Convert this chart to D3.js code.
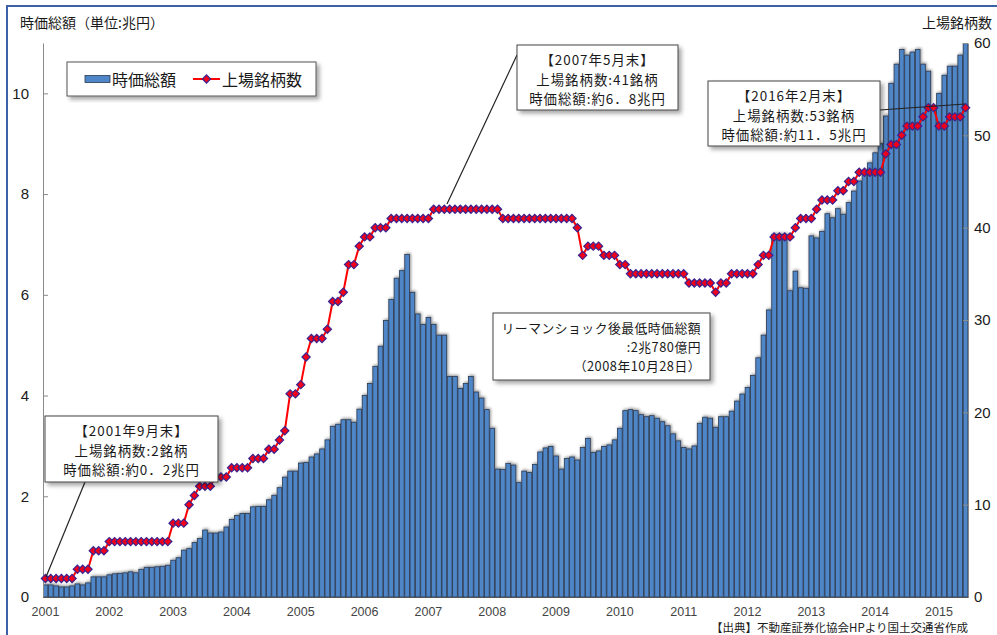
<!DOCTYPE html>
<html>
<head>
<meta charset="utf-8">
<script src="https://cdn.jsdelivr.net/npm/d3@7"></script>
<style>
  body { margin: 0; background: #fff; }
  svg text { font-family: "Noto Sans CJK JP", sans-serif; fill: #1a1a1a; }
  svg text.num { font-family: "Liberation Sans", Arial, sans-serif; }
</style>
</head>
<body>
<script>

// month-end data, Sep 2001 .. Feb 2016
var months = d3.timeMonth.range(new Date(2001, 8, 1), new Date(2016, 2, 1));

var yearLabels = ["2001", "2002", "2003", "2004", "2005", "2006", "2007", "2008",
                  "2009", "2010", "2011", "2012", "2013", "2014", "2015"];

// 時価総額 (兆円)
var marketCap = [
  0.24, 0.24, 0.22, 0.2, 0.2, 0.22, 0.26, 0.24, 0.28, 0.4, 0.4, 0.4,
  0.44, 0.46, 0.47, 0.48, 0.5, 0.48, 0.55, 0.59, 0.59, 0.6, 0.61, 0.63,
  0.73, 0.78, 0.93, 0.96, 1.08, 1.16, 1.33, 1.27, 1.27, 1.29, 1.39, 1.54,
  1.62, 1.66, 1.66, 1.79, 1.8, 1.8, 1.93, 2.02, 2.17, 2.38, 2.5, 2.5,
  2.66, 2.67, 2.78, 2.84, 2.94, 3.12, 3.39, 3.43, 3.52, 3.52, 3.47, 3.73,
  4.0, 4.24, 4.58, 4.98, 5.49, 5.91, 6.33, 6.48, 6.8, 6.05, 5.62, 5.41,
  5.55, 5.41, 5.2, 5.2, 4.38, 4.38, 4.14, 4.24, 4.38, 4.07, 3.95, 3.72,
  3.35, 2.54, 2.53, 2.65, 2.62, 2.27, 2.5, 2.47, 2.63, 2.88, 2.96, 2.99,
  2.8, 2.54, 2.75, 2.78, 2.72, 2.97, 3.15, 2.87, 2.9, 2.99, 3.02, 3.12,
  3.35, 3.7, 3.72, 3.7, 3.62, 3.58, 3.6, 3.55, 3.48, 3.4, 3.24, 3.1,
  2.97, 2.94, 3.0, 3.45, 3.57, 3.55, 3.37, 3.58, 3.58, 3.69, 3.89, 4.03,
  4.16, 4.4, 4.75, 5.2, 5.7, 7.2, 7.2, 7.2, 6.08, 6.47, 6.14, 6.13,
  7.17, 7.13, 7.26, 7.61, 7.53, 7.71, 7.6, 7.83, 8.06, 8.26, 8.47, 8.62,
  8.82, 9.0, 9.55, 10.2, 10.58, 10.87, 10.76, 10.82, 10.87, 10.58, 10.44, 9.71,
  10.0, 10.36, 10.54, 10.54, 10.76, 11.5
];

// 上場銘柄数
var listedCount = [
  2, 2, 2, 2, 2, 2, 3, 3, 3, 5, 5, 5,
  6, 6, 6, 6, 6, 6, 6, 6, 6, 6, 6, 6,
  8, 8, 8, 10, 11, 12, 12, 12, 13, 13, 13, 14,
  14, 14, 14, 15, 15, 15, 16, 16, 17, 18, 22, 22,
  23, 26, 28, 28, 28, 29, 32, 32, 33, 36, 36, 38,
  39, 39, 40, 40, 40, 41, 41, 41, 41, 41, 41, 41,
  41, 42, 42, 42, 42, 42, 42, 42, 42, 42, 42, 42,
  42, 42, 41, 41, 41, 41, 41, 41, 41, 41, 41, 41,
  41, 41, 41, 41, 40, 37, 38, 38, 38, 37, 37, 37,
  36, 36, 35, 35, 35, 35, 35, 35, 35, 35, 35, 35,
  35, 34, 34, 34, 34, 34, 33, 34, 34, 35, 35, 35,
  35, 35, 36, 37, 37, 39, 39, 39, 39, 40, 41, 41,
  41, 42, 43, 43, 43, 44, 44, 45, 45, 46, 46, 46,
  46, 46, 48, 49, 49, 50, 51, 51, 51, 52, 53, 53,
  51, 51, 52, 52, 52, 53
];

var leftTicks = [0, 2, 4, 6, 8, 10];
var rightTicks = [0, 10, 20, 30, 40, 50, 60];

// plot area
var width = 997, height = 635;
var plot = {left: 43, right: 968, top: 43, bottom: 597};

var svg = d3.select("body").append("svg")
  .attr("width", width)
  .attr("height", height);

var defs = svg.append("defs");

// soft drop shadow used by boxes
var sh = defs.append("filter").attr("id", "shadow")
  .attr("x", "-20%").attr("y", "-20%").attr("width", "140%").attr("height", "140%");
sh.append("feDropShadow").attr("dx", 3).attr("dy", 3).attr("stdDeviation", 2)
  .attr("flood-color", "#000").attr("flood-opacity", 0.35);

// glow on the bars
var gl = defs.append("filter").attr("id", "barglow")
  .attr("x", "-5%").attr("y", "-5%").attr("width", "110%").attr("height", "110%");
gl.append("feDropShadow").attr("dx", 1).attr("dy", -1).attr("stdDeviation", 1.6)
  .attr("flood-color", "#000").attr("flood-opacity", 0.45);

defs.append("clipPath").attr("id", "plotclip")
  .append("rect")
  .attr("x", plot.left).attr("y", plot.top)
  .attr("width", plot.right - plot.left).attr("height", plot.bottom - plot.top);

// outer frame
svg.append("rect")
  .attr("x", 7).attr("y", 6)
  .attr("width", 1000).attr("height", 640)
  .attr("fill", "none")
  .attr("stroke", "#3b62a6")
  .attr("stroke-width", 2);

// scales
var x = d3.scaleBand()
  .domain(d3.range(months.length))
  .range([plot.left, plot.right])
  .paddingInner(0.12)
  .paddingOuter(0.02);

var yL = d3.scaleLinear().domain([0, 11]).range([plot.bottom, plot.top]);
var yR = d3.scaleLinear().domain([0, 60]).range([plot.bottom, plot.top]);

// bars
svg.append("g")
  .attr("clip-path", "url(#plotclip)")
  .append("g")
  .attr("filter", "url(#barglow)")
  .selectAll("rect")
  .data(marketCap).enter()
  .append("rect")
  .attr("x", function(d, i) { return x(i); })
  .attr("width", x.bandwidth())
  .attr("y", function(d) { return yL(d); })
  .attr("height", function(d) { return yL(0) - yL(d); })
  .attr("fill", "#4f86c8")
  .attr("stroke", "#2b3a52")
  .attr("stroke-width", 0.8);

// axes
var axL = svg.append("g")
  .attr("transform", "translate(" + plot.left + ",0)")
  .call(d3.axisLeft(yL).tickValues(leftTicks).tickSizeInner(-5).tickSizeOuter(0).tickPadding(14));
axL.selectAll("text").attr("class", "num").style("font-size", "15px");

var axR = svg.append("g")
  .attr("transform", "translate(" + plot.right + ",0)")
  .call(d3.axisRight(yR).tickValues(rightTicks).tickSizeInner(-5).tickSizeOuter(0).tickPadding(6));
axR.selectAll("text").attr("class", "num").style("font-size", "15px");

var axB = svg.append("g")
  .attr("transform", "translate(0," + plot.bottom + ")")
  .call(d3.axisBottom(x)
    .tickValues(d3.range(0, months.length, 12))
    .tickFormat(function(i) { return yearLabels[i / 12]; })
    .tickSize(0).tickPadding(10));
axB.selectAll("text").attr("class", "num").style("font-size", "12.5px").style("fill", "#444");

[axL, axR, axB].forEach(function(a) {
  a.select(".domain").attr("stroke", "#8a8a8a");
  a.selectAll(".tick line").attr("stroke", "#8a8a8a");
  a.attr("font-family", null).attr("font-size", null);
});
axB.select(".domain").attr("stroke", "#555");

// listed count line
var line = d3.line()
  .x(function(d, i) { return x(i) + x.bandwidth() / 2; })
  .y(function(d) { return yR(d); });

svg.append("path")
  .datum(listedCount)
  .attr("fill", "none")
  .attr("stroke", "#ff0000")
  .attr("stroke-width", 2)
  .attr("d", line);

var diamond = d3.symbol().type(d3.symbolSquare).size(34);

svg.append("g").selectAll("path")
  .data(listedCount).enter()
  .append("path")
  .attr("d", diamond)
  .attr("transform", function(d, i) {
    return "translate(" + (x(i) + x.bandwidth() / 2) + "," + yR(d) + ") rotate(45)";
  })
  .attr("fill", "#f0001a")
  .attr("stroke", "#3a2390")
  .attr("stroke-width", 1.2);

// axis titles
svg.append("text").attr("x", 20).attr("y", 28)
  .style("font-size", "14px").text("時価総額（単位:兆円）");
svg.append("text").attr("x", 922).attr("y", 28)
  .style("font-size", "14px").text("上場銘柄数");

// legend
var lg = svg.append("g");
lg.append("rect")
  .attr("x", 67).attr("y", 62).attr("width", 249).attr("height", 34)
  .attr("fill", "#fff").attr("stroke", "#555").attr("stroke-width", 1)
  .attr("filter", "url(#shadow)");
lg.append("rect")
  .attr("x", 85).attr("y", 75.5).attr("width", 25).attr("height", 7)
  .attr("fill", "#4f86c8").attr("stroke", "#2b3a52").attr("stroke-width", 0.8);
lg.append("text").attr("x", 112).attr("y", 86)
  .style("font-size", "16px").text("時価総額");
lg.append("line")
  .attr("x1", 193).attr("x2", 220).attr("y1", 79).attr("y2", 79)
  .attr("stroke", "#ff0000").attr("stroke-width", 2);
lg.append("path")
  .attr("d", diamond)
  .attr("transform", "translate(206.5,79) rotate(45)")
  .attr("fill", "#f0001a").attr("stroke", "#3a2390").attr("stroke-width", 1.2);
lg.append("text").attr("x", 222).attr("y", 86)
  .style("font-size", "16px").text("上場銘柄数");

// callout boxes: one text per line
function callout(bx, by, bw, bh, lines, firstBase, lineGap, anchor, tx, fs, ls, leader) {
  var g = svg.append("g");
  if (leader) {
    g.append("line")
      .attr("x1", leader[0]).attr("y1", leader[1])
      .attr("x2", leader[2]).attr("y2", leader[3])
      .attr("stroke", "#222").attr("stroke-width", 1.2);
  }
  g.append("rect")
    .attr("x", bx).attr("y", by).attr("width", bw).attr("height", bh)
    .attr("fill", "#fff").attr("stroke", "#444").attr("stroke-width", 1)
    .attr("filter", "url(#shadow)");
  lines.forEach(function(s, k) {
    g.append("text")
      .attr("x", tx).attr("y", firstBase + k * lineGap)
      .attr("text-anchor", anchor)
      .style("font-size", fs + "px")
      .style("letter-spacing", ls + "px")
      .text(s);
  });
}

callout(45, 416, 173, 66,
  ["【2001年9月末】", "上場銘柄数:2銘柄", "時価総額:約0．2兆円"],
  436, 19.6, "middle", 131.5, 13.4, 1, [85, 482, 46, 577]);

callout(517, 45, 161, 65,
  ["【2007年5月末】", "上場銘柄数:41銘柄", "時価総額:約6．8兆円"],
  65, 19.6, "middle", 597.5, 13.4, 1, [517, 55, 447, 204]);

callout(493, 313, 217, 67,
  ["リーマンショック後最低時価総額", ":2兆780億円", "（2008年10月28日）"],
  333, 19, "end", 701, 12.8, 0.5, null);

callout(708, 81, 172, 65,
  ["【2016年2月末】", "上場銘柄数:53銘柄", "時価総額:約11．5兆円"],
  101, 19.6, "middle", 794, 13.4, 1, [880, 110, 965, 104]);

// source
svg.append("text").attr("x", 968).attr("y", 632)
  .attr("text-anchor", "end")
  .style("font-size", "11.5px")
  .text("【出典】不動産証券化協会HPより国土交通省作成");

</script>
</body>
</html>
